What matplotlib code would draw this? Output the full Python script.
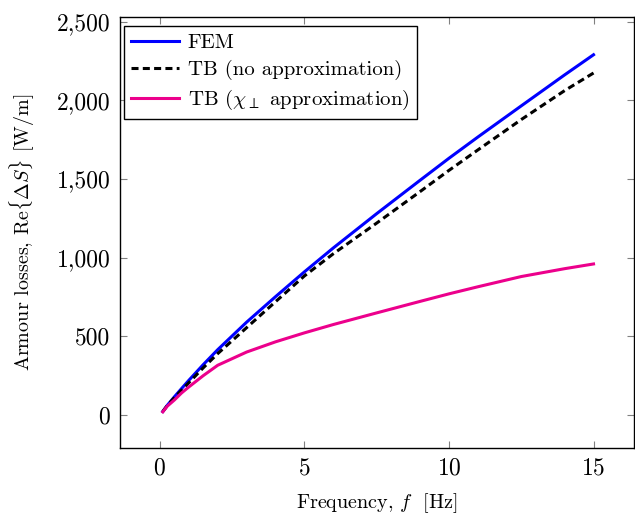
import matplotlib
matplotlib.use("Agg")
import matplotlib.pyplot as plt
from matplotlib.ticker import FuncFormatter

# Valeurs
freq = [0.1, 0.25, 0.5, 0.75, 1, 1.5, 2, 3, 4, 5, 6, 7.5, 9, 10, 11, 12.5, 14, 15]
fem = [22, 60, 115, 168, 220, 320, 415, 590, 752, 910, 1062, 1280, 1492, 1632, 1767, 1965, 2162, 2290]
tb_full = [22, 58, 110, 158, 205, 300, 390, 555, 720, 884, 1025, 1220, 1420, 1555, 1685, 1878, 2062, 2174]
tb_perp = [20, 55, 95, 140, 178, 250, 316, 400, 465, 522, 575, 649, 722, 770, 815, 880, 930, 960]

plt.rcParams['font.family'] = 'serif'
plt.rcParams['font.serif'] = ['cmr10']
plt.rcParams['mathtext.fontset'] = 'cm'
plt.rcParams['axes.formatter.use_mathtext'] = True

fig = plt.figure(figsize=(6.35, 5.14), dpi=100)
ax = fig.add_axes([120 / 635, 1 - 448 / 514, 514 / 635, 431 / 514])

ax.plot(freq, fem, color='#0000FF', lw=2.2, label='FEM')
ax.plot(freq, tb_full, color='black', lw=2.2, linestyle=(0, (2.3, 1.4)),
        label='TB (no approximation)')
ax.plot(freq, tb_perp, color='#EC008C', lw=2.2,
        label=r'TB ($\chi_\perp$ approximation)')

ax.set_xlim(-1.38, 16.4)
ax.set_ylim(-210, 2530)
ax.set_xticks([0, 5, 10, 15])
ax.set_yticks([0, 500, 1000, 1500, 2000, 2500])
ax.yaxis.set_major_formatter(FuncFormatter(lambda v, p: f"{v:,.0f}"))

ax.tick_params(direction='in', length=5, width=0.8, color='#808080',
               top=True, right=True, labelsize=17, pad=7)
for s in ax.spines.values():
    s.set_linewidth(1.0)

ax.set_xlabel(r'Frequency, $f$  [Hz]', fontsize=14.5, labelpad=8)
ax.set_ylabel(r'Armour losses, Re$\{\Delta S\}$ [W/m]', fontsize=14.5, labelpad=14)

leg = ax.legend(loc='upper left', bbox_to_anchor=(0.008, 0.979), fontsize=15,
                frameon=True, fancybox=False, framealpha=1, edgecolor='black',
                handlelength=2.3, handletextpad=0.4, borderpad=0.35,
                labelspacing=0.38, borderaxespad=0)
leg.get_frame().set_linewidth(1.0)

fig.savefig('out.png', dpi=100)
